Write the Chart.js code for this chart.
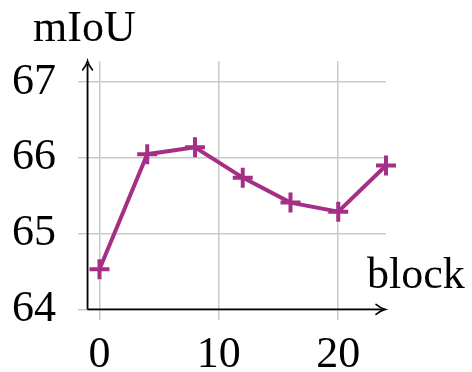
<!DOCTYPE html>
<html>
<head>
<meta charset="utf-8">
<script src="https://cdn.jsdelivr.net/npm/chart.js@4"></script>
<style>
  html, body { margin: 0; padding: 0; background: #fff; }
  #wrap { width: 472px; height: 372px; position: relative; }
</style>
</head>
<body>
<div id="wrap"><canvas id="chart"></canvas></div>
<script>
// data
const blocks = [0, 4, 8, 12, 16, 20, 24];
const miou = [64.53, 66.05, 66.14, 65.74, 65.41, 65.29, 65.9];
const xTicks = [0, 10, 20];
const yTicks = [64, 65, 66, 67];

// axis ranges (the axes cross at x=-1, y=64)
const xMin = -1.8, xMax = 24;
const yMin = 63.86, yMax = 67.28;
const xCross = -1, yCross = 64;

const lineColor = '#a52f85';
const font = '"Liberation Serif", "Times New Roman", serif';

// draws the black axis lines with arrows and the two axis titles
const axisArrows = {
    id: 'axisArrows',
    beforeDatasetsDraw(chart) {
        const ctx = chart.ctx;
        const x = chart.scales.x, y = chart.scales.y;
        const ox = x.getPixelForValue(xCross);
        const oy = y.getPixelForValue(yCross);
        const top = chart.chartArea.top;
        const right = chart.chartArea.right - 1;

        ctx.save();
        ctx.strokeStyle = '#000';
        ctx.fillStyle = '#000';
        ctx.lineWidth = 1.8;
        ctx.beginPath();
        ctx.moveTo(ox, oy);
        ctx.lineTo(ox, top + 3);
        ctx.moveTo(ox, oy);
        ctx.lineTo(right - 3, oy);
        ctx.stroke();

        // arrow heads
        ctx.lineWidth = 1.6;
        ctx.lineCap = 'round';
        ctx.beginPath();
        ctx.moveTo(ox - 5, top + 9);
        ctx.quadraticCurveTo(ox - 1, top + 4, ox, top);
        ctx.quadraticCurveTo(ox + 1, top + 4, ox + 5, top + 9);
        ctx.stroke();
        ctx.beginPath();
        ctx.moveTo(right - 9, oy - 5);
        ctx.quadraticCurveTo(right - 4, oy - 1, right, oy);
        ctx.quadraticCurveTo(right - 4, oy + 1, right - 9, oy + 5);
        ctx.stroke();
        ctx.restore();
    },
    afterDraw(chart) {
        const ctx = chart.ctx;
        ctx.save();
        ctx.fillStyle = '#000';
        ctx.font = '44px ' + font;
        ctx.textBaseline = 'alphabetic';
        ctx.textAlign = 'left';
        ctx.fillText('mIoU', 33, 41);
        ctx.fillText('block', 367, 288);
        ctx.restore();
    }
};

new Chart(document.getElementById('chart'), {
    type: 'line',
    data: {
        datasets: [{
            label: 'mIoU',
            data: blocks.map((b, i) => ({ x: b, y: miou[i] })),
            borderColor: lineColor,
            backgroundColor: lineColor,
            borderWidth: 4,
            pointStyle: 'cross',
            pointRadius: 10,
            pointBorderWidth: 4,
            pointBorderColor: lineColor,
            tension: 0,
            clip: false
        }]
    },
    options: {
        responsive: true,
        maintainAspectRatio: false,
        animation: false,
        layout: { padding: { top: 61, right: 86, left: 0, bottom: 0 } },
        plugins: { legend: { display: false }, tooltip: { enabled: false } },
        scales: {
            x: {
                type: 'linear',
                min: xMin,
                max: xMax,
                afterBuildTicks: s => { s.ticks = xTicks.map(v => ({ value: v })); },
                afterFit: s => { s.height = 52; },
                grid: { color: '#cacaca', lineWidth: 1.5, drawTicks: false },
                border: { display: false },
                ticks: { color: '#000', padding: 9, font: { family: font, size: 44 } }
            },
            y: {
                type: 'linear',
                min: yMin,
                max: yMax,
                afterBuildTicks: s => { s.ticks = yTicks.map(v => ({ value: v })); },
                afterFit: s => { s.width = 78; },
                grid: { color: '#cacaca', lineWidth: 1.5, drawTicks: false },
                border: { display: false },
                ticks: { color: '#000', padding: 22, font: { family: font, size: 44 } }
            }
        }
    },
    plugins: [axisArrows]
});
</script>
</body>
</html>
